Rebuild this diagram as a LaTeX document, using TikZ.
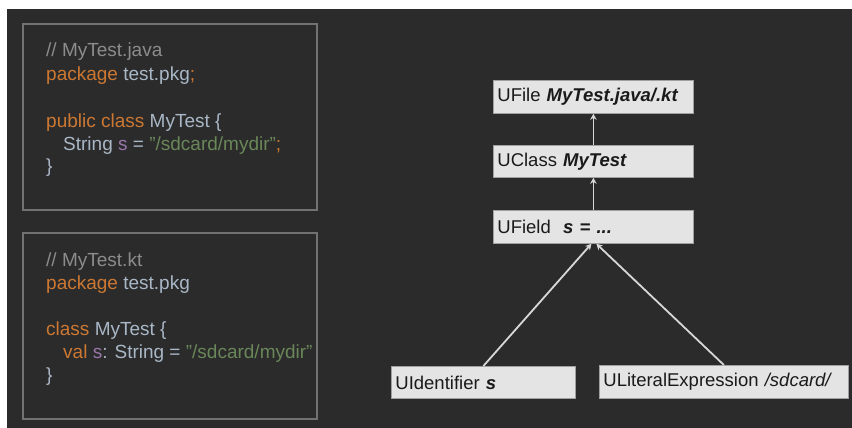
\documentclass[tikz,border=0pt]{standalone}
\usepackage{fontspec}
\setmainfont{Liberation Sans}
\usetikzlibrary{arrows.meta}
\definecolor{bg}{HTML}{2B2B2B}
\definecolor{frame}{HTML}{727272}
\definecolor{cmt}{HTML}{8C8C8C}
\definecolor{kw}{HTML}{CC7832}
\definecolor{plain}{HTML}{A9B7C6}
\definecolor{fld}{HTML}{9876AA}
\definecolor{str}{HTML}{6A8759}
\definecolor{boxfill}{HTML}{E4E4E4}
\definecolor{boxline}{HTML}{A0A0A0}
\definecolor{boxtext}{HTML}{1A1A1A}
\definecolor{arrcol}{HTML}{D8D8D8}
\tikzset{
  codeline/.style={anchor=base west, inner sep=0pt, font=\fontsize{19}{22}\selectfont, text=plain},
  codeframe/.style={draw=frame, line width=1.3pt},
  astbox/.style={draw=boxline, fill=boxfill, line width=0.8pt, anchor=north west,
    inner xsep=4pt, inner ysep=0pt, align=left, text=boxtext,
    font=\fontsize{18.5}{22}\selectfont},
  arr/.style={draw=arrcol, line width=1.8pt, -{Stealth[length=6pt,width=6.5pt,fill=white]}}
}
\newcommand{\bi}[1]{\textbf{\textit{#1}}}
\newcommand{\dq}{\char34\relax}
\begin{document}
\begin{tikzpicture}[x=1pt,y=-1pt]
\useasboundingbox (0,0) rectangle (852,428);
\fill[white] (0,0) rectangle (852,428);
\fill[bg] (7,9) rectangle (852,428);

% Java box
\draw[codeframe] (23,24) rectangle (317,210);
\node[codeline] (j1) at (46,57) {\textcolor{cmt}{// MyTest.java}};
\node[codeline] (j2) at (46,81) {\textcolor{kw}{package} test.pkg\textcolor{kw}{;}};
\node[codeline] (j3) at (46,127) {\textcolor{kw}{public class} MyTest \{};
\node[codeline] (j4) at (63,150) {String \textcolor{fld}{s} = \textcolor{str}{\dq/sdcard/mydir\dq}\textcolor{kw}{;}};
\node[codeline] (j5) at (46,172) {\}};

% Kotlin box
\draw[codeframe] (23,233) rectangle (317,419);
\node[codeline] (k1) at (46,266) {\textcolor{cmt}{// MyTest.kt}};
\node[codeline] (k2) at (46,289) {\textcolor{kw}{package} test.pkg};
\node[codeline] (k3) at (46,335) {\textcolor{kw}{class} MyTest \{};
\node[codeline] (k4) at (63,358) {\textcolor{kw}{val} \textcolor{fld}{s}: String = \textcolor{str}{\dq/sdcard/mydir\dq}};
\node[codeline] (k5) at (46,381) {\}};

% AST boxes
\node[astbox, text width=192pt, minimum height=33pt] (ufile) at (493,80) {UFile \bi{MyTest.java/.kt}};
\node[astbox, text width=192pt, minimum height=32pt] (uclass) at (493,145) {UClass \bi{MyTest}};
\node[astbox, text width=192pt, minimum height=33pt] (ufield) at (493,210) {UField\ \ \bi{s = ...}};
\node[astbox, text width=176pt, minimum height=32pt] (uid) at (391,366) {UIdentifier \bi{s}};
\node[astbox, text width=241pt, minimum height=33pt] (ulit) at (599,365) {ULiteralExpression \textit{/sdcard/}};

% connectors
\draw[arr] (uclass.north) -- (ufile.south);
\draw[arr] (ufield.north) -- (uclass.south);
\draw[arr] (uid.north) -- ([xshift=-2pt]ufield.south);
\draw[arr] (ulit.north) -- ([xshift=3pt]ufield.south);
\end{tikzpicture}
\end{document}
